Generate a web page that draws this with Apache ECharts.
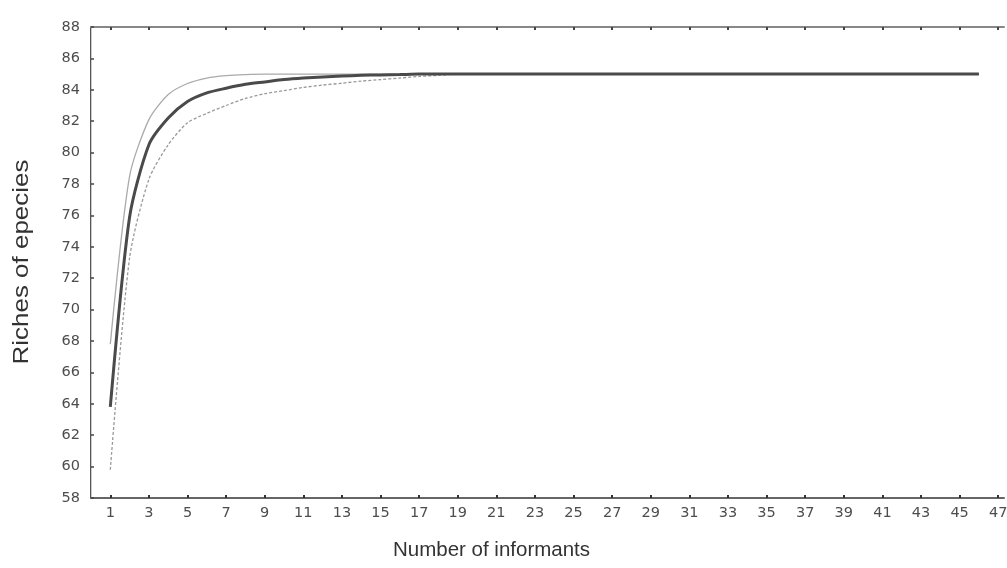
<!DOCTYPE html>
<html>
<head>
<meta charset="utf-8">
<script src="https://cdn.jsdelivr.net/npm/echarts@6/dist/echarts.min.js"></script>
<style>html,body{margin:0;padding:0;background:#fff}#c{width:1007px;height:568px}</style>
</head>
<body>
<div id="c"></div>
<script>
// Number of informants
const informants = [1,2,3,4,5,6,7,8,9,10,11,12,13,14,15,16,17,18,19,20,21,22,23,24,25,26,27,28,29,30,31,32,33,34,35,36,37,38,39,40,41,42,43,44,45,46];
// Mean species richness
const meanRichness = [63.8,75.9,80.5,82.2,83.25,83.8,84.1,84.35,84.5,84.65,84.75,84.82,84.88,84.92,84.95,84.97,85,85,85,85,85,85,85,85,85,85,85,85,85,85,85,85,85,85,85,85,85,85,85,85,85,85,85,85,85,85];
// Upper confidence bound
const upperBound = [67.8,78.5,82.1,83.7,84.4,84.75,84.9,84.97,85,85,85,85,85,85,85,85,85,85,85,85,85,85,85,85,85,85,85,85,85,85,85,85,85,85,85,85,85,85,85,85,85,85,85,85,85,85];
// Lower confidence bound
const lowerBound = [59.8,73.3,78.3,80.5,81.9,82.5,83.0,83.45,83.75,83.95,84.15,84.3,84.42,84.55,84.65,84.75,84.85,84.92,85,85,85,85,85,85,85,85,85,85,85,85,85,85,85,85,85,85,85,85,85,85,85,85,85,85,85,85];
// X tick labels
const xTicks = [1,3,5,7,9,11,13,15,17,19,21,23,25,27,29,31,33,35,37,39,41,43,45,47];

const pair = (ys) => informants.map((x, i) => [x, ys[i]]);
const font = 'Liberation Sans, Arial, sans-serif';
const tickFont = 'DejaVu Sans, sans-serif';
const chart = echarts.init(document.getElementById('c'));
const xBase = {
  type: 'value', min: 0, max: 47.3,
  splitLine: { show: false }
};
chart.setOption({
  animation: false,
  backgroundColor: '#fff',
  grid: { left: 91, right: 3, top: 27, bottom: 70, outerBoundsMode: 'none', containLabel: false },
  graphic: [
    {
      type: 'text',
      x: 22, y: 262, rotation: Math.PI / 2, scaleX: 1.18, scaleY: 1,
      style: { text: 'Riches of epecies', fontFamily: font, fontSize: 22, fill: '#333', align: 'center', verticalAlign: 'middle' }
    }
  ],
  xAxis: [
    Object.assign({}, xBase, {
      position: 'bottom',
      name: 'Number of informants',
      nameLocation: 'middle',
      nameGap: 42,
      nameTextStyle: { fontFamily: font, fontSize: 20.5, color: '#333', padding: [0, 112, 0, 0] },
      axisLine: { show: true, lineStyle: { color: '#666', width: 2 } },
      axisTick: { show: true, inside: true, length: 3, customValues: xTicks, lineStyle: { color: '#333', width: 2 } },
      axisLabel: { customValues: xTicks, fontFamily: tickFont, fontSize: 14.5, color: '#4d4d4d', margin: 8 }
    }),
    Object.assign({}, xBase, {
      position: 'top',
      axisLine: { show: true, lineStyle: { color: '#888', width: 2 } },
      axisTick: { show: true, inside: true, length: 3, customValues: xTicks, lineStyle: { color: '#444', width: 2 } },
      axisLabel: { show: false }
    })
  ],
  yAxis: [
    {
      type: 'value', min: 58, max: 88, interval: 2,
      position: 'left',
      splitLine: { show: false },
      axisLine: { show: true, lineStyle: { color: '#555', width: 2 } },
      axisTick: { show: true, inside: true, length: 3, lineStyle: { color: '#444', width: 1.5 } },
      axisLabel: { fontFamily: tickFont, fontSize: 14.5, color: '#4d4d4d', margin: 11 }
    },
    {
      type: 'value', min: 58, max: 88, interval: 2,
      position: 'right',
      splitLine: { show: false },
      axisLine: { show: true, lineStyle: { color: '#ccc', width: 1 } },
      axisTick: { show: false },
      axisLabel: { show: false }
    }
  ],
  series: [
    {
      type: 'line', data: pair(upperBound), showSymbol: false, smooth: 0.25,
      lineStyle: { color: '#aaa', width: 1.3 }, z: 2
    },
    {
      type: 'line', data: pair(lowerBound), showSymbol: false, smooth: 0.25,
      lineStyle: { color: '#999', width: 1.3, type: [3, 2] }, z: 2
    },
    {
      type: 'line', data: pair(meanRichness), showSymbol: false, smooth: 0.25,
      lineStyle: { color: '#4a4a4a', width: 3 }, z: 3
    }
  ]
});
</script>
</body>
</html>
